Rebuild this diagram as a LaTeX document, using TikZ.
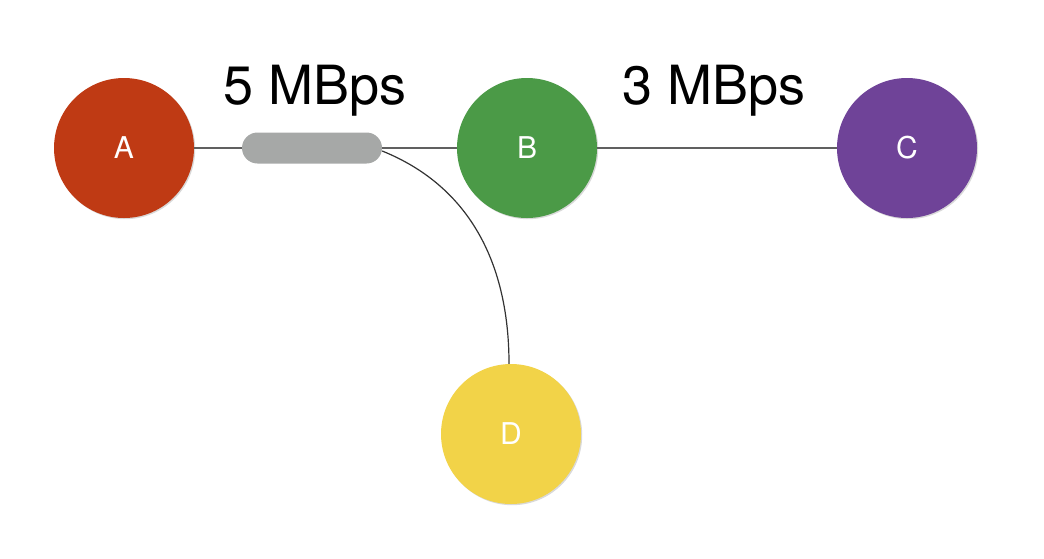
\documentclass[tikz,border=0pt]{standalone}
\usepackage{fontspec}
\setmainfont{TeX Gyre Heros}
\usetikzlibrary{shadows}

\definecolor{nodeA}{HTML}{BF3A14}
\definecolor{nodeB}{HTML}{4B9A47}
\definecolor{nodeC}{HTML}{6F4398}
\definecolor{nodeD}{HTML}{F2D348}
\definecolor{pillgray}{HTML}{A6A8A7}
\definecolor{linkgray}{HTML}{606060}

\begin{document}
\begin{tikzpicture}
        [
        x=1pt, y=-1pt,
        host/.style={circle,minimum size=140pt,inner sep=0pt,text=white,
          font=\fontsize{30}{32}\selectfont,
          drop shadow={opacity=0.3,shadow xshift=1.2pt,shadow yshift=-1.2pt}},
        rate/.style={font=\fontsize{54}{58}\selectfont},
        link/.style={draw=linkgray,line width=1.2pt}
        ]
        \useasboundingbox (0,0) rectangle (1044,558);

        \node[host,fill=nodeA] (A) at (124,148) {A};
        \node[host,fill=nodeB] (B) at (527,148) {B};
        \node[host,fill=nodeC] (C) at (907,148) {C};
        \node[host,fill=nodeD] (D) at (511,434) {D};

        \node[fill=pillgray,rounded corners=15.5pt,minimum width=140pt,
          minimum height=31pt,inner sep=0pt] (pill) at (312,148) {};

        \node[rate] (r1) at (315,91) {5 MBps};
        \node[rate] (r2) at (714,91) {3 MBps};

        \draw[link] (A) -- (pill.west);
        \draw[link] (pill.east) -- (B);
        \draw[link] (B) -- (C);
        \draw[black!80,line width=1.2pt] ([yshift=-3pt]pill.east) to[out=-22,in=90] ([xshift=-2pt]D.north);
    \end{tikzpicture}
\end{document}
